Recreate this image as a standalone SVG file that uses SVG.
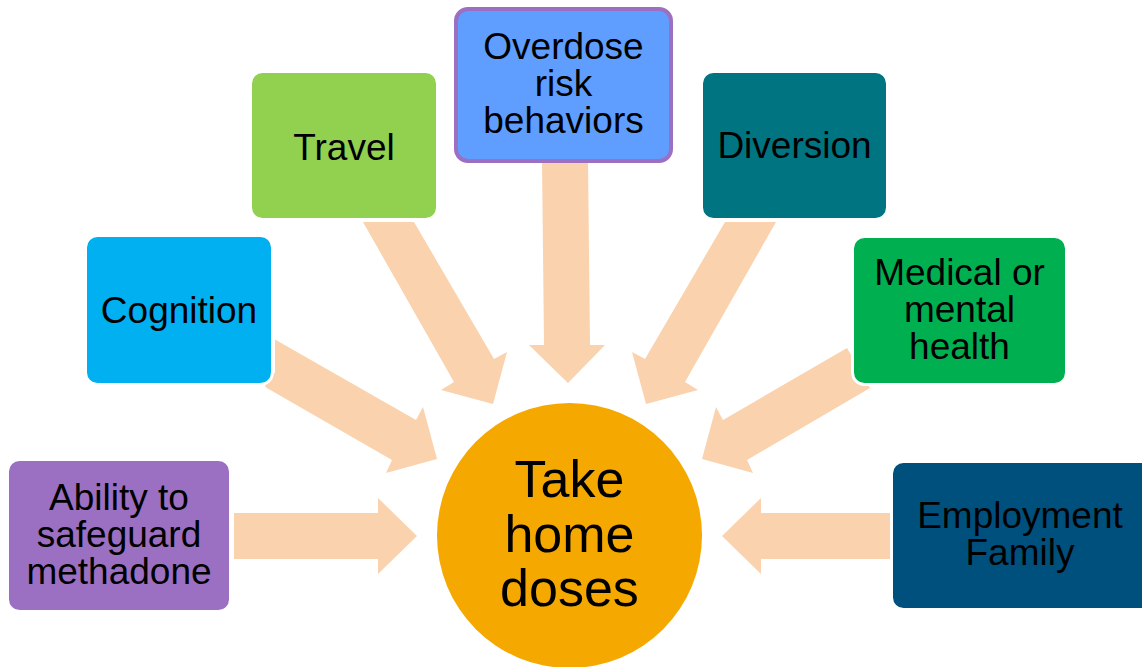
<svg xmlns="http://www.w3.org/2000/svg" width="1142" height="667" viewBox="0 0 1142 667">
<style>
.arr{fill:#FAD2AD}
.box{stroke:#fff;stroke-width:3}
.t{font-family:"Liberation Sans",Arial,sans-serif;font-size:37px;fill:#000;text-anchor:middle}
.c{font-family:"Liberation Sans",Arial,sans-serif;font-size:52px;fill:#000;text-anchor:middle}
</style>
<rect width="1142" height="667" fill="#fff"/>
<g id="connectors">
<polygon class="arr" points="234,513 378,513 378,498 417,536 378,574 378,559 234,559"/>
<polygon class="arr" points="890,513 761,513 761,498 722,536 761,574 761,559 890,559"/>
<polygon class="arr" points="542,160 588,160 590,345 605,345 568,383 529,345 544,345"/>
<polygon class="arr" points="363,222 414,222 494,359 507,352 493,404 441,390 454,382"/>
<polygon class="arr" points="776,222 725,222 645,359 632,352 646,404 698,390 685,382"/>
<polygon class="arr" points="275,339.5 416,420 423,407 437,459 386,473 392,460 266,387.5 262,378 262,373 275,373"/>
<polygon class="arr" points="847,348 723,420 716,407 702,459 753,473 747,460 870,388"/>
</g>
<g id="center">
<circle cx="569.5" cy="535.5" r="132.5" fill="#F5A800"/>
<text class="c" x="569.5" y="497">Take</text>
<text class="c" x="569.5" y="552">home</text>
<text class="c" x="569.5" y="606">doses</text>
</g>
<g id="ability">
<rect class="box" x="7.5" y="459.5" width="223" height="152" rx="12" fill="#9B70C2"/>
<text class="t" x="119" y="510">Ability to</text>
<text class="t" x="119" y="547">safeguard</text>
<text class="t" x="119" y="584">methadone</text>
</g>
<g id="cognition">
<rect class="box" x="85.5" y="235.5" width="187" height="149" rx="12" fill="#00B0F0"/>
<text class="t" x="179" y="323">Cognition</text>
</g>
<g id="travel">
<rect class="box" x="250.5" y="71.5" width="187" height="148" rx="12" fill="#92D050"/>
<text class="t" x="344" y="160">Travel</text>
</g>
<g id="overdose">
<rect x="456" y="9" width="215" height="152" rx="12" fill="#5F9EFF" stroke="#9B70C2" stroke-width="4"/>
<text class="t" x="563.5" y="59">Overdose</text>
<text class="t" x="563.5" y="96">risk</text>
<text class="t" x="563.5" y="133">behaviors</text>
</g>
<g id="diversion">
<rect class="box" x="701.5" y="71.5" width="186" height="148" rx="12" fill="#007481"/>
<text class="t" x="794.5" y="158">Diversion</text>
</g>
<g id="medical">
<rect class="box" x="852.5" y="236.5" width="214" height="148" rx="12" fill="#00B050"/>
<text class="t" x="959.5" y="285">Medical or</text>
<text class="t" x="959.5" y="322">mental</text>
<text class="t" x="959.5" y="359">health</text>
</g>
<g id="employment">
<rect class="box" x="891.5" y="461.5" width="265" height="148" rx="12" fill="#00507D"/>
<text class="t" x="1020" y="528">Employment</text>
<text class="t" x="1020" y="565">Family</text>
</g>
</svg>
